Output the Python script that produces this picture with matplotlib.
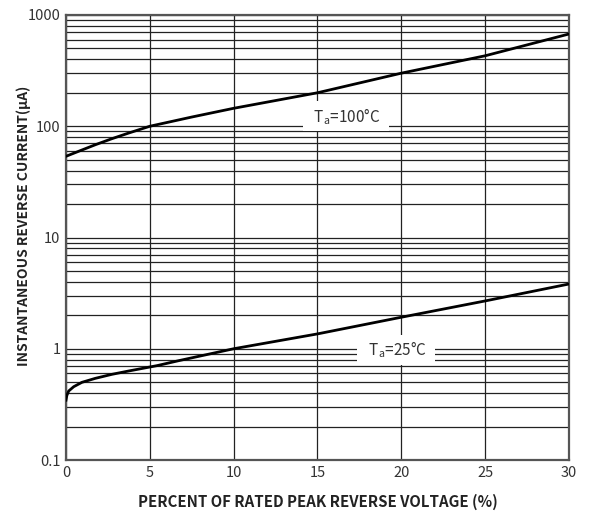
import matplotlib
matplotlib.use("Agg")
import matplotlib.pyplot as plt
from matplotlib.ticker import FixedLocator, NullFormatter

plt.rcParams['font.family'] = ['Noto Sans CJK SC', 'DejaVu Sans']
plt.rcParams['mathtext.fontset'] = 'custom'
plt.rcParams['mathtext.rm'] = 'Noto Sans CJK SC'
plt.rcParams['mathtext.it'] = 'Noto Sans CJK SC'

# ---- data ----
x_100 = [0, 0.76, 1.75, 2.74, 3.74, 5, 7.5, 10, 15, 20, 25, 30]
i_100 = [53.7, 59.6, 68.2, 77.3, 86.9, 100, 121, 145, 200, 300, 430, 675]

x_25 = [0, 0.05, 0.16, 0.46, 0.95, 1.75, 2.74, 3.74, 5.43, 6.7, 10, 15, 20, 25, 30]
i_25 = [0.345, 0.38, 0.417, 0.456, 0.499, 0.542, 0.589, 0.631, 0.705, 0.78, 1.0, 1.36, 1.92, 2.69, 3.82]

x_ticks = [0, 5, 10, 15, 20, 25, 30]
y_ticks = [0.1, 1, 10, 100, 1000]
y_tick_labels = ['0.1', '1', '10', '100', '1000']

fig = plt.figure(figsize=(5.89, 5.18), dpi=100)
ax = fig.add_axes([66/589, 58/518, 503/589, 445/518])

ax.set_yscale('log')
ax.set_xlim(0, 30)
ax.set_ylim(0.1, 1000)

# grid
minor = [m * 10**e for e in range(-1, 3) for m in range(2, 10)]
ax.yaxis.set_major_locator(FixedLocator(y_ticks))
ax.yaxis.set_minor_locator(FixedLocator(minor))
ax.yaxis.set_minor_formatter(NullFormatter())
ax.set_yticklabels(y_tick_labels)
ax.set_xticks(x_ticks)
ax.set_xticklabels([str(v) for v in x_ticks])
ax.grid(True, which='both', axis='y', color='#222222', linewidth=0.9)
ax.grid(True, which='major', axis='x', color='#222222', linewidth=0.9)
ax.tick_params(which='both', length=0, labelsize=10.5, labelcolor='#333333', pad=4)

for s in ax.spines.values():
    s.set_color('#555555')
    s.set_linewidth(1.6)

ax.plot(x_100, i_100, color='black', linewidth=2.0, zorder=3)
ax.plot(x_25, i_25, color='black', linewidth=2.0, zorder=3)

bbox = dict(boxstyle='square,pad=0.3', fc='white', ec='none')
ax.text(16.7, 123, '  T$_{\\mathrm{a}}$=100°C  ', ha='center', va='center',
        fontsize=11, color='#333333', bbox=bbox, zorder=4)
ax.text(19.7, 0.975, '  T$_{\\mathrm{a}}$=25°C  ', ha='center', va='center',
        fontsize=11, color='#333333', bbox=bbox, zorder=4)

ax.set_xlabel('PERCENT OF RATED PEAK REVERSE VOLTAGE (%)', fontsize=10.8,
              fontweight='bold', color='#222222')
ax.set_ylabel('INSTANTANEOUS REVERSE CURRENT(μA)', fontsize=10,
              fontweight='bold', color='#222222')
ax.yaxis.set_label_coords(-0.070, 0.527)
ax.xaxis.set_label_coords(0.5, -0.077)

fig.savefig('out.png', dpi=100)
